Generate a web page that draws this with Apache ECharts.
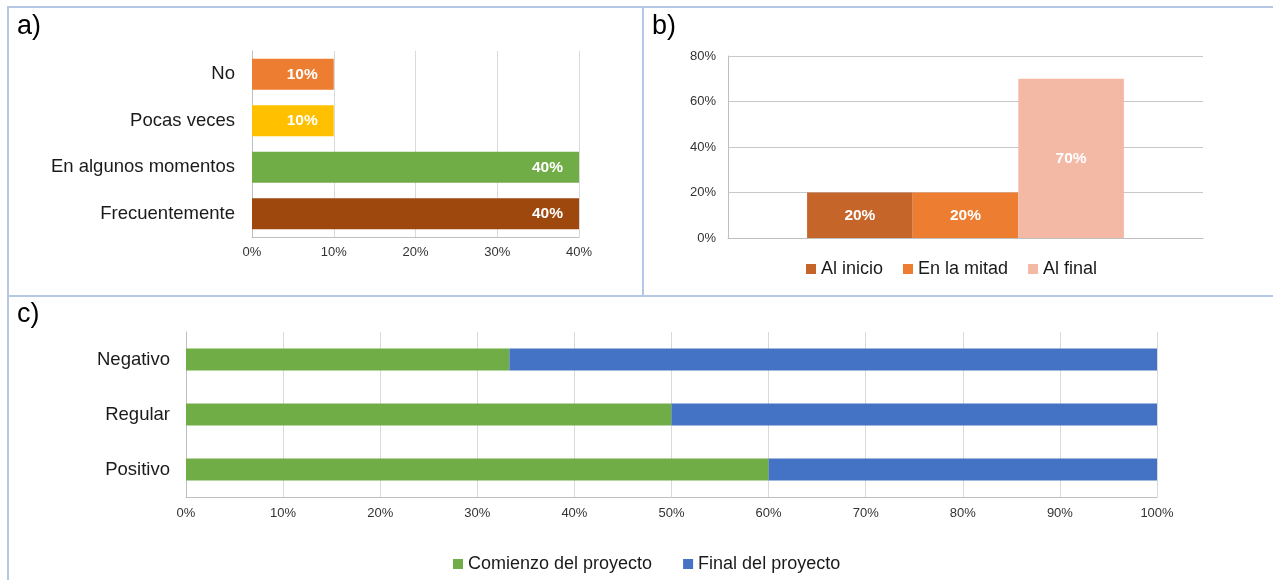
<!DOCTYPE html>
<html lang="es">
<head>
<meta charset="UTF-8">
<title>a) b) c)</title>
<script src="https://cdn.jsdelivr.net/npm/echarts@6/dist/echarts.min.js"></script>
<style>
  html, body { margin: 0; padding: 0; background: #fff; }
  #main { width: 1273px; height: 580px; }
</style>
</head>
<body>
<div id="main"></div>
<script type="text/javascript">
    // datos del panel a)
    var aCategories = ['No', 'Pocas veces', 'En algunos momentos', 'Frecuentemente'];
    var aValues = [10, 10, 40, 40];
    var aColors = ['#ED7D31', '#FFC000', '#70AD47', '#9E480E'];

    // datos del panel b)
    var bSeriesNames = ['Al inicio', 'En la mitad', 'Al final'];
    var bValues = [20, 20, 70];
    var bColors = ['#C5652A', '#ED7D31', '#F4B9A5'];

    // datos del panel c)
    var cCategories = ['Negativo', 'Regular', 'Positivo'];
    var cComienzo = [33.3, 50, 60];
    var cFinal = [66.7, 50, 40];
    var cSeriesNames = ['Comienzo del proyecto', 'Final del proyecto'];
    var cColors = ['#70AD47', '#4472C4'];

    var font = "'Liberation Sans', Arial, sans-serif";
    var gridColor = '#d9d9d9';
    var axisColor = '#bfbfbf';
    var borderColor = '#B4C7E7';

    var chart = echarts.init(document.getElementById('main'));

    function pct(v) { return v + '%'; }

    var bSeries = bSeriesNames.map(function (name, i) {
        return {
            name: name,
            type: 'bar',
            xAxisIndex: 1,
            yAxisIndex: 1,
            barGap: '0%',
            barCategoryGap: '33.3%',
            itemStyle: { color: bColors[i] },
            label: {
                show: true, position: 'inside', color: '#fff',
                fontWeight: 'bold', fontSize: 15.5, fontFamily: font,
                formatter: function (p) { return p.value + '%'; }
            },
            data: [bValues[i]]
        };
    });

    var cSeries = [cComienzo, cFinal].map(function (vals, i) {
        return {
            name: cSeriesNames[i],
            type: 'bar',
            stack: 'c',
            xAxisIndex: 2,
            yAxisIndex: 2,
            barWidth: 22,
            itemStyle: { color: cColors[i] },
            data: vals
        };
    });

    chart.setOption({
        animation: false,
        textStyle: { fontFamily: font },
        graphic: [
            { type: 'line', shape: { x1: 7, y1: 7, x2: 1273, y2: 7 }, style: { stroke: borderColor, lineWidth: 2 } },
            { type: 'line', shape: { x1: 8, y1: 6, x2: 8, y2: 580 }, style: { stroke: borderColor, lineWidth: 2 } },
            { type: 'line', shape: { x1: 643, y1: 6, x2: 643, y2: 296 }, style: { stroke: borderColor, lineWidth: 2 } },
            { type: 'line', shape: { x1: 7, y1: 296, x2: 1273, y2: 296 }, style: { stroke: borderColor, lineWidth: 2 } },
            { type: 'text', left: 17, top: 13, style: { text: 'a)', fontSize: 27, fontFamily: font, fill: '#000' } },
            { type: 'text', left: 652, top: 13, style: { text: 'b)', fontSize: 27, fontFamily: font, fill: '#000' } },
            { type: 'text', left: 17, top: 301, style: { text: 'c)', fontSize: 27, fontFamily: font, fill: '#000' } }
        ],
        legend: [
            {
                data: bSeriesNames,
                left: 801, top: 255,
                icon: 'rect', itemWidth: 10, itemHeight: 10, itemGap: 20,
                textStyle: { fontSize: 18, color: '#1a1a1a', fontFamily: font }
            },
            {
                data: cSeriesNames,
                left: 448, top: 550,
                icon: 'rect', itemWidth: 10, itemHeight: 10, itemGap: 31,
                textStyle: { fontSize: 18, color: '#1a1a1a', fontFamily: font }
            }
        ],
        grid: [
            { left: 252, top: 51, width: 327, height: 186 },
            { left: 728, top: 56, width: 475, height: 182 },
            { left: 186, top: 332, width: 971, height: 165 }
        ],
        xAxis: [
            {
                gridIndex: 0, type: 'value', min: 0, max: 40, interval: 10,
                axisLine: { show: true, lineStyle: { color: axisColor } },
                axisTick: { show: false },
                splitLine: { show: true, lineStyle: { color: gridColor } },
                axisLabel: { formatter: pct, fontSize: 13, color: '#333', margin: 9, fontFamily: font }
            },
            {
                gridIndex: 1, type: 'category', data: [''],
                axisLine: { show: true, lineStyle: { color: axisColor } },
                axisTick: { show: false },
                axisLabel: { show: false }
            },
            {
                gridIndex: 2, type: 'value', min: 0, max: 100, interval: 10,
                axisLine: { show: true, lineStyle: { color: axisColor } },
                axisTick: { show: false },
                splitLine: { show: true, lineStyle: { color: gridColor } },
                axisLabel: { formatter: pct, fontSize: 13, color: '#333', margin: 10, fontFamily: font }
            }
        ],
        yAxis: [
            {
                gridIndex: 0, type: 'category', data: aCategories, inverse: true,
                axisLine: { show: true, lineStyle: { color: axisColor } },
                axisTick: { show: false },
                axisLabel: { fontSize: 18.5, color: '#1a1a1a', margin: 17, fontFamily: font }
            },
            {
                gridIndex: 1, type: 'value', min: 0, max: 80, interval: 20,
                axisLine: { show: true, lineStyle: { color: axisColor } },
                axisTick: { show: false },
                splitLine: { show: true, lineStyle: { color: '#c8c8c8' } },
                axisLabel: { formatter: pct, fontSize: 13, color: '#333', margin: 12, fontFamily: font }
            },
            {
                gridIndex: 2, type: 'category', data: cCategories, inverse: true,
                axisLine: { show: true, lineStyle: { color: axisColor } },
                axisTick: { show: false },
                axisLabel: { fontSize: 18.5, color: '#1a1a1a', margin: 16, fontFamily: font }
            }
        ],
        series: [
            {
                name: 'a',
                type: 'bar',
                xAxisIndex: 0,
                yAxisIndex: 0,
                barWidth: 31,
                label: {
                    show: true, position: 'insideRight', distance: 16, color: '#fff',
                    fontWeight: 'bold', fontSize: 15.5, fontFamily: font,
                    formatter: function (p) { return p.value + '%'; }
                },
                data: aValues.map(function (v, i) {
                    return { value: v, itemStyle: { color: aColors[i] } };
                })
            }
        ].concat(bSeries, cSeries)
    });
</script>
</body>
</html>
